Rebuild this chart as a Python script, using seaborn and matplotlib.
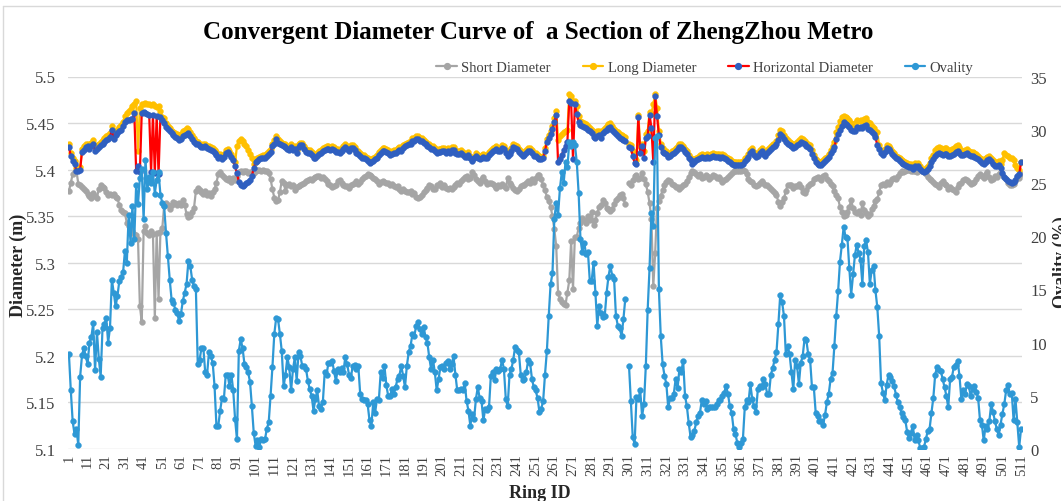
import matplotlib
matplotlib.use("Agg")
import matplotlib.pyplot as plt
from matplotlib.lines import Line2D
import numpy as np
import pandas as pd
import seaborn as sns

nan = float("nan")

rings = list(range(1, 512))

# short diameter (m), one value per ring, rows of 10 rings
short_diameter = [
    5.377, 5.386, 5.395, 5.397, 5.399, 5.385, 5.383, 5.381, 5.379, 5.377,  # 1
    5.374, 5.372, 5.370, 5.375, 5.372, 5.370, 5.379, 5.383, 5.381, 5.380,  # 11
    5.376, 5.373, 5.374, 5.373, 5.374, 5.371, 5.369, 5.362, 5.357, 5.354,  # 21
    5.353, 5.343, 5.340, 5.336, 5.334, 5.331, 5.330, 5.325, 5.254, 5.236,  # 31
    5.334, 5.340, 5.332, 5.330, 5.334, 5.331, 5.241, 5.332, 5.261, 5.333,  # 41
    5.337, 5.361, 5.364, 5.362, 5.358, 5.362, 5.365, 5.364, 5.362, 5.364,  # 51
    5.362, 5.367, 5.362, 5.352, 5.349, 5.350, 5.354, 5.359, 5.377, 5.380,  # 61
    5.378, 5.376, 5.374, 5.377, 5.373, 5.375, 5.372, 5.376, 5.379, 5.386,  # 71
    5.395, 5.397, 5.394, 5.392, 5.390, 5.389, 5.391, 5.387, 5.391, 5.389,  # 81
    5.393, 5.397, 5.399, 5.397, 5.398, 5.398, 5.396, 5.397, 5.397, 5.396,  # 91
    5.399, 5.400, 5.400, 5.399, 5.400, 5.399, 5.398, 5.396, 5.390, 5.379,  # 101
    5.370, 5.366, 5.367, 5.376, 5.388, 5.386, 5.377, 5.383, 5.385, 5.382,  # 111
    5.384, 5.378, 5.381, 5.382, 5.383, 5.385, 5.386, 5.388, 5.389, 5.390,  # 121
    5.389, 5.391, 5.392, 5.393, 5.393, 5.391, 5.392, 5.390, 5.388, 5.385,  # 131
    5.383, 5.381, 5.382, 5.384, 5.388, 5.389, 5.386, 5.384, 5.382, 5.382,  # 141
    5.380, 5.384, 5.385, 5.386, 5.388, 5.385, 5.387, 5.390, 5.392, 5.393,  # 151
    5.395, 5.394, 5.393, 5.391, 5.390, 5.388, 5.385, 5.387, 5.388, 5.387,  # 161
    5.386, 5.386, 5.384, 5.385, 5.382, 5.381, 5.382, 5.379, 5.377, 5.379,  # 171
    5.377, 5.376, 5.376, 5.377, 5.374, 5.375, 5.371, 5.369, 5.371, 5.373,  # 181
    5.376, 5.378, 5.380, 5.383, 5.382, 5.379, 5.379, 5.383, 5.383, 5.386,  # 191
    5.381, 5.383, 5.380, 5.379, 5.380, 5.379, 5.381, 5.383, 5.386, 5.385,  # 201
    5.388, 5.390, 5.392, 5.393, 5.390, 5.391, 5.397, 5.394, 5.390, 5.388,  # 211
    5.386, 5.390, 5.392, 5.388, 5.385, 5.386, 5.386, 5.385, 5.382, 5.380,  # 221
    5.384, 5.382, 5.385, 5.382, 5.380, 5.391, 5.386, 5.383, 5.380, 5.378,  # 231
    5.377, 5.379, 5.382, 5.384, 5.383, 5.386, 5.388, 5.386, 5.390, 5.387,  # 241
    5.391, 5.394, 5.394, 5.390, 5.383, 5.378, 5.371, 5.366, 5.360, 5.350,  # 251
    5.336, 5.318, 5.268, 5.261, 5.258, 5.256, 5.255, 5.268, 5.281, 5.323,  # 261
    5.272, 5.328, 5.328, 5.337, 5.343, 5.348, 5.346, 5.343, 5.350, 5.346,  # 271
    5.354, 5.341, 5.346, 5.353, 5.360, 5.362, 5.367, 5.364, 5.359, 5.358,  # 281
    5.356, 5.358, 5.363, 5.367, 5.369, 5.373, 5.374, 5.369, 5.363, nan,    # 291
    5.386, 5.383, 5.389, 5.393, 5.394, 5.390, 5.391, 5.396, 5.390, 5.385,  # 301
    5.376, 5.364, 5.347, 5.275, 5.310, 5.359, 5.366, 5.372, 5.378, 5.384,  # 311
    5.387, 5.389, 5.388, 5.385, 5.383, 5.381, 5.381, 5.379, 5.381, 5.383,  # 321
    5.385, 5.388, 5.392, 5.396, 5.399, 5.397, 5.395, 5.393, 5.395, 5.391,  # 331
    5.392, 5.394, 5.393, 5.390, 5.392, 5.394, 5.393, 5.391, 5.392, 5.390,  # 341
    5.387, 5.389, 5.390, 5.392, 5.394, 5.396, 5.398, 5.398, 5.399, 5.399,  # 351
    5.399, 5.400, 5.399, 5.395, 5.390, 5.388, 5.387, 5.384, 5.382, 5.384,  # 361
    5.386, 5.388, 5.386, 5.384, 5.383, 5.381, 5.379, 5.377, 5.375, 5.373,  # 371
    5.365, 5.361, 5.365, 5.369, 5.377, 5.384, 5.383, 5.383, 5.380, 5.382,  # 381
    5.382, 5.385, 5.381, 5.376, 5.375, 5.378, 5.382, 5.385, 5.386, 5.390,  # 391
    5.391, 5.392, 5.391, 5.389, 5.393, 5.394, 5.390, 5.388, 5.385, 5.382,  # 401
    5.377, 5.373, 5.369, 5.360, 5.354, 5.350, 5.351, 5.355, 5.360, 5.367,  # 411
    5.359, 5.354, 5.353, 5.356, 5.351, 5.364, 5.357, 5.353, 5.350, 5.352,  # 421
    5.358, 5.361, 5.366, 5.368, 5.376, 5.383, 5.385, 5.384, 5.387, 5.385,  # 431
    5.387, 5.390, 5.391, 5.390, 5.393, 5.396, 5.398, 5.397, 5.398, 5.400,  # 441
    5.400, 5.398, 5.398, 5.399, 5.397, 5.399, 5.400, 5.399, 5.397, 5.395,  # 451
    5.392, 5.390, 5.389, 5.387, 5.385, 5.383, 5.381, 5.386, 5.388, 5.385,  # 461
    5.383, 5.379, 5.381, 5.379, 5.378, 5.376, 5.381, 5.385, 5.386, 5.389,  # 471
    5.390, 5.389, 5.387, 5.385, 5.386, 5.387, 5.390, 5.393, 5.395, 5.393,  # 481
    5.391, 5.395, 5.397, 5.392, 5.389, 5.390, 5.393, 5.392, 5.395, 5.397,  # 491
    5.395, 5.392, 5.390, 5.386, 5.384, 5.383, 5.385, 5.388, 5.392, 5.391, 5.395,  # 501
]

long_diameter = [
    5.427, 5.418, 5.412, 5.409, 5.402, 5.401, 5.403, 5.422, 5.425, 5.428,  # 1
    5.428, 5.426, 5.429, 5.432, 5.424, 5.426, 5.428, 5.430, 5.432, 5.434,  # 11
    5.436, 5.437, 5.439, 5.447, 5.437, 5.441, 5.443, 5.446, 5.448, 5.451,  # 21
    5.458, 5.461, 5.463, 5.465, 5.468, 5.470, 5.474, 5.420, 5.466, 5.470,  # 31
    5.471, 5.472, 5.470, 5.471, 5.469, 5.470, 5.468, 5.467, 5.468, 5.463,  # 41
    5.457, 5.455, 5.450, 5.447, 5.445, 5.442, 5.440, 5.439, 5.438, 5.437,  # 51
    5.438, 5.441, 5.443, 5.445, 5.444, 5.440, 5.437, 5.434, 5.431, 5.430,  # 61
    5.428, 5.426, 5.427, 5.428, 5.425, 5.425, 5.424, 5.423, 5.421, 5.419,  # 71
    5.416, 5.417, 5.414, 5.417, 5.421, 5.422, 5.420, 5.417, 5.413, 5.408,  # 81
    5.425, 5.431, 5.433, 5.431, 5.428, 5.425, 5.421, 5.417, 5.412, 5.406,  # 91
    5.411, 5.412, 5.414, 5.415, 5.416, 5.416, 5.418, 5.420, 5.422, 5.428,  # 101
    5.432, 5.436, 5.433, 5.431, 5.429, 5.428, 5.427, 5.425, 5.424, 5.427,  # 111
    5.424, 5.425, 5.421, 5.427, 5.429, 5.429, 5.425, 5.422, 5.421, 5.421,  # 121
    5.419, 5.415, 5.416, 5.418, 5.420, 5.421, 5.423, 5.424, 5.425, 5.425,  # 131
    5.424, 5.425, 5.424, 5.422, 5.422, 5.421, 5.423, 5.425, 5.427, 5.425,  # 141
    5.423, 5.426, 5.426, 5.424, 5.421, 5.420, 5.418, 5.416, 5.416, 5.414,  # 151
    5.412, 5.410, 5.411, 5.412, 5.414, 5.416, 5.419, 5.421, 5.423, 5.423,  # 161
    5.422, 5.421, 5.419, 5.420, 5.421, 5.421, 5.423, 5.424, 5.423, 5.426,  # 171
    5.428, 5.429, 5.430, 5.431, 5.434, 5.434, 5.436, 5.436, 5.434, 5.434,  # 181
    5.432, 5.430, 5.428, 5.427, 5.425, 5.425, 5.423, 5.421, 5.422, 5.422,  # 191
    5.423, 5.423, 5.421, 5.423, 5.421, 5.424, 5.424, 5.421, 5.420, 5.420,  # 201
    5.421, 5.419, 5.417, 5.417, 5.419, 5.415, 5.410, 5.414, 5.418, 5.416,  # 211
    5.414, 5.416, 5.417, 5.416, 5.416, 5.419, 5.421, 5.423, 5.424, 5.425,  # 221
    5.423, 5.423, 5.426, 5.425, 5.421, 5.418, 5.420, 5.423, 5.427, 5.426,  # 231
    5.425, 5.422, 5.420, 5.418, 5.419, 5.421, 5.423, 5.423, 5.421, 5.418,  # 241
    5.418, 5.416, 5.414, 5.414, 5.415, 5.423, 5.433, 5.437, 5.441, 5.447,  # 251
    5.455, 5.463, 5.432, 5.436, 5.438, 5.440, 5.441, 5.443, 5.481, 5.479,  # 261
    5.474, 5.474, 5.468, 5.458, 5.452, 5.451, 5.450, 5.449, 5.447, 5.445,  # 271
    5.443, 5.440, 5.439, 5.441, 5.442, 5.439, 5.443, 5.445, 5.447, 5.449,  # 281
    5.450, 5.447, 5.444, 5.442, 5.440, 5.438, 5.437, 5.436, 5.435, nan,    # 291
    5.427, 5.426, 5.420, 5.412, 5.410, 5.459, 5.425, 5.428, 5.420, 5.438,  # 301
    5.441, 5.462, 5.460, 5.470, 5.481, 5.466, 5.442, 5.428, 5.423, 5.421,  # 311
    5.420, 5.417, 5.418, 5.420, 5.421, 5.423, 5.425, 5.427, 5.427, 5.425,  # 321
    5.422, 5.420, 5.416, 5.413, 5.409, 5.411, 5.413, 5.414, 5.416, 5.417,  # 331
    5.416, 5.416, 5.417, 5.416, 5.417, 5.418, 5.417, 5.417, 5.417, 5.416,  # 341
    5.417, 5.416, 5.414, 5.412, 5.411, 5.409, 5.408, 5.408, 5.408, 5.408,  # 351
    5.408, 5.409, 5.412, 5.414, 5.417, 5.421, 5.423, 5.419, 5.417, 5.418,  # 361
    5.421, 5.423, 5.420, 5.418, 5.421, 5.423, 5.425, 5.427, 5.428, 5.431,  # 371
    5.437, 5.443, 5.441, 5.437, 5.434, 5.432, 5.430, 5.429, 5.427, 5.428,  # 381
    5.430, 5.432, 5.434, 5.433, 5.431, 5.429, 5.428, 5.426, 5.421, 5.416,  # 391
    5.411, 5.409, 5.408, 5.408, 5.410, 5.412, 5.414, 5.417, 5.421, 5.425,  # 401
    5.430, 5.440, 5.446, 5.452, 5.456, 5.458, 5.457, 5.455, 5.453, 5.450,  # 411
    5.448, 5.450, 5.453, 5.452, 5.453, 5.452, 5.454, 5.455, 5.451, 5.450,  # 421
    5.447, 5.445, 5.442, 5.440, 5.426, 5.421, 5.419, 5.422, 5.426, 5.425,  # 431
    5.423, 5.420, 5.418, 5.415, 5.414, 5.412, 5.410, 5.409, 5.408, 5.407,  # 441
    5.406, 5.406, 5.404, 5.407, 5.406, 5.407, 5.404, 5.401, 5.400, 5.402,  # 451
    5.404, 5.407, 5.412, 5.416, 5.421, 5.423, 5.424, 5.423, 5.422, 5.423,  # 461
    5.423, 5.421, 5.421, 5.422, 5.423, 5.425, 5.426, 5.424, 5.421, 5.420,  # 471
    5.421, 5.422, 5.420, 5.419, 5.419, 5.418, 5.417, 5.415, 5.413, 5.411,  # 481
    5.410, 5.412, 5.414, 5.415, 5.413, 5.410, 5.408, 5.408, 5.409, 5.406,  # 491
    5.410, 5.418, 5.416, 5.415, 5.413, 5.412, 5.410, 5.405, 5.402, 5.400, 5.408,  # 501
]

horizontal_diameter = [
    5.424, 5.415, 5.409, 5.406, 5.399, 5.398, 5.400, 5.419, 5.421, 5.424,  # 1
    5.425, 5.422, 5.425, 5.428, 5.420, 5.422, 5.424, 5.426, 5.428, 5.430,  # 11
    5.432, 5.433, 5.435, 5.443, 5.433, 5.437, 5.439, 5.442, 5.443, 5.447,  # 21
    5.451, 5.453, 5.453, 5.454, 5.454, 5.461, 5.399, 5.404, 5.397, 5.461,  # 31
    5.462, 5.461, 5.460, 5.459, 5.397, 5.459, 5.396, 5.458, 5.395, 5.457,  # 41
    5.453, 5.450, 5.446, 5.444, 5.441, 5.439, 5.437, 5.435, 5.434, 5.432,  # 51
    5.433, 5.436, 5.437, 5.438, 5.439, 5.436, 5.433, 5.430, 5.428, 5.427,  # 61
    5.425, 5.424, 5.424, 5.425, 5.423, 5.422, 5.421, 5.420, 5.418, 5.416,  # 71
    5.413, 5.414, 5.411, 5.414, 5.418, 5.419, 5.417, 5.414, 5.410, 5.404,  # 81
    5.396, 5.387, 5.384, 5.382, 5.384, 5.386, 5.387, 5.389, 5.393, 5.402,  # 91
    5.408, 5.409, 5.411, 5.412, 5.413, 5.413, 5.415, 5.417, 5.419, 5.425,  # 101
    5.428, 5.433, 5.429, 5.428, 5.426, 5.425, 5.424, 5.422, 5.421, 5.424,  # 111
    5.421, 5.422, 5.418, 5.424, 5.426, 5.426, 5.422, 5.419, 5.418, 5.418,  # 121
    5.416, 5.412, 5.413, 5.415, 5.417, 5.418, 5.420, 5.421, 5.422, 5.422,  # 131
    5.421, 5.422, 5.421, 5.419, 5.419, 5.418, 5.420, 5.422, 5.424, 5.422,  # 141
    5.420, 5.423, 5.423, 5.421, 5.418, 5.417, 5.415, 5.413, 5.413, 5.411,  # 151
    5.409, 5.407, 5.408, 5.409, 5.411, 5.413, 5.416, 5.418, 5.420, 5.420,  # 161
    5.419, 5.418, 5.416, 5.417, 5.418, 5.418, 5.420, 5.421, 5.420, 5.423,  # 171
    5.425, 5.426, 5.427, 5.428, 5.431, 5.431, 5.433, 5.433, 5.431, 5.431,  # 181
    5.429, 5.427, 5.425, 5.424, 5.422, 5.422, 5.420, 5.418, 5.419, 5.419,  # 191
    5.420, 5.420, 5.418, 5.420, 5.418, 5.421, 5.421, 5.418, 5.417, 5.417,  # 201
    5.418, 5.416, 5.414, 5.414, 5.416, 5.412, 5.409, 5.413, 5.415, 5.413,  # 211
    5.411, 5.413, 5.414, 5.413, 5.413, 5.416, 5.418, 5.420, 5.421, 5.422,  # 221
    5.420, 5.420, 5.423, 5.422, 5.418, 5.415, 5.417, 5.420, 5.424, 5.423,  # 231
    5.422, 5.419, 5.417, 5.415, 5.416, 5.418, 5.420, 5.420, 5.418, 5.415,  # 241
    5.415, 5.413, 5.411, 5.411, 5.412, 5.420, 5.430, 5.434, 5.438, 5.444,  # 251
    5.451, 5.459, 5.408, 5.411, 5.416, 5.421, 5.425, 5.430, 5.474, 5.472,  # 261
    5.411, 5.470, 5.460, 5.451, 5.448, 5.447, 5.446, 5.445, 5.443, 5.441,  # 271
    5.439, 5.435, 5.434, 5.436, 5.437, 5.434, 5.439, 5.441, 5.443, 5.445,  # 281
    5.446, 5.443, 5.440, 5.438, 5.436, 5.434, 5.433, 5.432, 5.431, nan,    # 291
    5.424, 5.423, 5.415, 5.407, 5.406, 5.456, 5.418, 5.425, 5.413, 5.434,  # 301
    5.436, 5.459, 5.445, 5.408, 5.479, 5.458, 5.437, 5.424, 5.419, 5.418,  # 311
    5.417, 5.414, 5.415, 5.417, 5.418, 5.420, 5.422, 5.424, 5.424, 5.422,  # 321
    5.419, 5.417, 5.413, 5.410, 5.406, 5.408, 5.410, 5.411, 5.413, 5.414,  # 331
    5.413, 5.413, 5.414, 5.413, 5.414, 5.415, 5.414, 5.414, 5.414, 5.413,  # 341
    5.414, 5.413, 5.411, 5.409, 5.408, 5.406, 5.405, 5.405, 5.405, 5.405,  # 351
    5.405, 5.406, 5.409, 5.411, 5.414, 5.418, 5.420, 5.416, 5.414, 5.415,  # 361
    5.418, 5.420, 5.417, 5.415, 5.418, 5.420, 5.422, 5.424, 5.425, 5.427,  # 371
    5.432, 5.438, 5.436, 5.433, 5.430, 5.428, 5.426, 5.425, 5.423, 5.424,  # 381
    5.426, 5.428, 5.430, 5.429, 5.427, 5.425, 5.424, 5.422, 5.417, 5.413,  # 391
    5.408, 5.406, 5.405, 5.405, 5.407, 5.409, 5.411, 5.414, 5.418, 5.421,  # 401
    5.424, 5.433, 5.438, 5.443, 5.447, 5.451, 5.449, 5.448, 5.446, 5.443,  # 411
    5.441, 5.442, 5.446, 5.445, 5.446, 5.445, 5.447, 5.448, 5.444, 5.443,  # 421
    5.440, 5.438, 5.435, 5.426, 5.422, 5.418, 5.416, 5.419, 5.423, 5.422,  # 431
    5.420, 5.417, 5.415, 5.412, 5.411, 5.409, 5.407, 5.406, 5.405, 5.404,  # 441
    5.403, 5.403, 5.401, 5.404, 5.403, 5.404, 5.401, 5.398, 5.397, 5.399,  # 451
    5.401, 5.404, 5.408, 5.411, 5.415, 5.417, 5.418, 5.417, 5.416, 5.417,  # 461
    5.417, 5.415, 5.415, 5.416, 5.417, 5.419, 5.420, 5.418, 5.416, 5.416,  # 471
    5.417, 5.418, 5.416, 5.415, 5.415, 5.414, 5.413, 5.411, 5.409, 5.407,  # 481
    5.406, 5.408, 5.410, 5.411, 5.409, 5.406, 5.404, 5.404, 5.405, 5.402,  # 491
    5.396, 5.392, 5.390, 5.388, 5.387, 5.386, 5.387, 5.389, 5.393, 5.395, 5.408,  # 501
]

# ovality (%), right axis
ovality = [
    8.9, 5.5, 2.6, 1.4, 1.9, 0.4, 6.8, 8.8, 9.5, 8.7,  # 1
    8.0, 10.0, 10.5, 11.8, 7.4, 11.0, 8.5, 6.8, 11.4, 11.7,  # 11
    12.3, 10.0, 11.4, 15.9, 14.7, 13.4, 14.4, 15.8, 16.2, 16.6,  # 21
    18.6, 17.5, 22.0, 19.4, 22.8, 19.7, 24.8, 23.0, 25.5, 26.3,  # 31
    21.6, 27.2, 24.4, 25.6, 25.0, 26.0, 24.0, 25.3, 26.0, 23.9,  # 41
    23.1, 22.8, 20.3, 18.1, 15.9, 14.0, 13.7, 13.1, 12.8, 12.0,  # 51
    12.7, 13.9, 14.7, 15.5, 17.7, 17.2, 15.9, 15.3, 15.0, 8.0,  # 61
    8.4, 9.5, 9.5, 7.2, 7.0, 9.1, 8.7, 8.1, 5.9, 2.2,  # 71
    2.2, 3.6, 4.8, 4.7, 7.0, 7.0, 5.9, 7.0, 5.5, 2.8,  # 81
    0.9, 9.2, 10.3, 9.5, 8.0, 7.7, 7.2, 6.3, 4.0, 1.5,  # 91
    0.3, 0.8, 0.2, 0.9, 0.8, 0.9, 1.9, 2.5, 5.0, 7.7,  # 101
    10.8, 12.3, 12.2, 10.8, 9.2, 5.9, 7.0, 8.6, 7.7, 5.5,  # 111
    7.5, 8.6, 6.4, 9.1, 8.7, 7.8, 7.8, 7.5, 6.4, 5.6,  # 121
    5.0, 3.6, 4.7, 5.5, 4.0, 3.8, 4.4, 7.2, 7.0, 8.1,  # 131
    8.1, 8.3, 7.3, 6.4, 7.5, 7.2, 7.6, 7.2, 8.6, 8.0,  # 141
    7.0, 6.7, 7.8, 7.9, 7.5, 7.8, 5.2, 4.7, 4.6, 4.6,  # 151
    4.2, 2.7, 2.2, 4.4, 3.4, 4.7, 4.6, 7.2, 6.7, 7.8,  # 161
    6.0, 5.0, 5.0, 5.6, 5.2, 5.8, 6.6, 6.9, 7.8, 6.9,  # 171
    5.8, 7.8, 9.1, 9.7, 10.8, 10.6, 11.6, 11.9, 11.3, 10.8,  # 181
    11.5, 10.5, 10.0, 8.6, 7.5, 8.4, 7.2, 5.5, 6.6, 7.7,  # 191
    7.8, 7.5, 8.1, 8.3, 7.5, 8.0, 8.7, 7.0, 5.5, 5.5,  # 201
    5.6, 5.5, 6.2, 4.5, 3.6, 2.2, 3.3, 2.8, 4.7, 5.8,  # 211
    4.8, 4.5, 2.7, 3.8, 3.7, 3.9, 6.9, 7.2, 6.5, 7.5,  # 221
    7.3, 7.5, 8.4, 7.5, 4.7, 4.0, 7.0, 7.5, 8.4, 9.6,  # 231
    9.3, 9.1, 7.0, 6.5, 6.6, 7.2, 8.4, 8.1, 6.6, 5.8,  # 241
    5.5, 4.8, 3.5, 3.8, 4.5, 7.0, 9.2, 12.5, 15.5, 16.5,  # 251
    21.6, 23.1, 22.0, 24.5, 26.0, 25.0, 27.0, 26.5, 28.8, 28.5,  # 261
    28.8, 28.6, 27.0, 24.1, 19.7, 18.5, 19.4, 18.3, 18.5, 15.8,  # 271
    15.8, 17.5, 14.7, 11.6, 13.4, 12.8, 12.4, 12.5, 14.7, 16.2,  # 281
    17.2, 16.3, 16.0, 12.5, 11.6, 11.4, 10.6, 12.2, 14.1, nan,  # 291
    7.8, 4.5, 1.1, 0.5, 4.9, 4.7, 5.5, 3.1, 4.2, 7.8,  # 301
    13.1, 17.0, 22.2, 21.0, 29.2, 29.4, 15.0, 10.6, 8.0, 6.9,  # 311
    6.1, 3.9, 4.8, 4.8, 5.2, 6.6, 5.7, 7.5, 7.2, 8.3,  # 321
    5.0, 4.0, 2.4, 1.1, 1.3, 1.7, 2.5, 3.1, 3.4, 4.6,  # 331
    4.2, 4.5, 3.8, 3.9, 3.9, 3.9, 3.9, 4.2, 4.6, 4.6,  # 341
    5.0, 5.3, 5.9, 5.2, 4.0, 3.4, 1.9, 1.4, 0.6, 0.2,  # 351
    0.6, 0.9, 3.9, 4.6, 4.4, 6.1, 4.7, 4.0, 3.5, 5.6,  # 361
    5.9, 5.8, 6.6, 6.1, 5.2, 5.2, 7.0, 7.6, 8.4, 9.1,  # 371
    11.7, 14.5, 13.8, 12.5, 8.9, 9.7, 8.9, 7.2, 5.6, 8.4,  # 381
    7.8, 6.1, 8.1, 8.7, 10.3, 10.2, 8.9, 8.4, 5.8, 5.8,  # 391
    3.4, 3.1, 2.6, 2.6, 2.3, 3.2, 4.4, 5.2, 6.6, 7.1,  # 401
    9.7, 12.5, 14.8, 17.6, 19.2, 20.9, 19.9, 19.8, 17.0, 14.5,  # 411
    16.4, 18.2, 19.2, 18.4, 17.8, 15.5, 19.1, 19.6, 18.5, 15.5,  # 421
    16.8, 17.2, 14.9, 13.3, 10.6, 6.2, 5.3, 4.6, 6.0, 7.0,  # 431
    6.8, 6.4, 5.9, 5.1, 4.4, 3.9, 3.4, 3.0, 2.7, 1.6,  # 441
    1.0, 1.5, 2.2, 0.8, 1.3, 0.8, 0.1, 0.1, 0.2, 0.9,  # 451
    1.7, 1.9, 3.4, 4.8, 7.0, 7.7, 7.4, 7.3, 6.6, 5.8,  # 461
    5.0, 3.9, 6.6, 6.8, 7.7, 7.9, 8.3, 6.9, 4.7, 5.5,  # 471
    5.2, 6.1, 5.9, 5.0, 5.6, 5.9, 5.4, 4.8, 2.7, 2.3,  # 481
    0.8, 2.2, 1.9, 2.6, 4.2, 3.5, 2.6, 1.9, 1.3, 2.3,  # 491
    3.3, 4.2, 5.5, 6.0, 5.2, 5.3, 2.7, 4.7, 2.5, 0.2, 1.9,  # 501
]

x_tick_rings = list(range(1, 512, 10))
y_left_ticks = [5.1, 5.15, 5.2, 5.25, 5.3, 5.35, 5.4, 5.45, 5.5]
y_left_labels = ["5.1", "5.15", "5.2", "5.25", "5.3", "5.35", "5.4", "5.45", "5.5"]
y_right_ticks = [0, 5, 10, 15, 20, 25, 30, 35]

GRAY = "#A5A5A5"
GOLD = "#FFC000"
RED = "#FF0000"
DARK_BLUE = "#2F5FC0"
LIGHT_BLUE = "#2E98D5"

df = pd.DataFrame({
    "Ring": rings,
    "Short": short_diameter,
    "Long": long_diameter,
    "Horizontal": horizontal_diameter,
    "Ovality": ovality,
})
# missing ring splits every line into separate pieces
df["piece"] = df["Ovality"].isna().cumsum()

sns.set_theme(style="white")
plt.rcParams["font.family"] = ["Liberation Serif", "DejaVu Serif"]

W, H = 1061, 502
fig = plt.figure(figsize=(W / 100, H / 100), dpi=100)
ax = fig.add_axes([68 / W, 1 - 450 / H, (1022 - 68) / W, (450 - 77.5) / H])
ax2 = ax.twinx()

mk = dict(marker="o", markersize=4.2, linewidth=1.6, estimator=None,
          units="piece", legend=False)

sns.lineplot(data=df, x="Ring", y="Short", ax=ax, color=GRAY,
             markerfacecolor=GRAY, markeredgecolor=GRAY, markeredgewidth=0.3, **mk)
sns.lineplot(data=df, x="Ring", y="Long", ax=ax, color=GOLD,
             markerfacecolor=GOLD, markeredgecolor=GOLD, markeredgewidth=0.3, **mk)
sns.lineplot(data=df, x="Ring", y="Horizontal", ax=ax, color=RED,
             markerfacecolor=DARK_BLUE, markeredgecolor=DARK_BLUE, markeredgewidth=0.3, **mk)
sns.lineplot(data=df, x="Ring", y="Ovality", ax=ax2, color=LIGHT_BLUE,
             markerfacecolor=LIGHT_BLUE, markeredgecolor=LIGHT_BLUE, markeredgewidth=0.3, **mk)

ax.set_xlim(0.5, 511.5)
ax.set_ylim(5.1, 5.5)
ax2.set_ylim(0, 35)

ax.set_yticks(y_left_ticks)
ax.set_yticklabels(y_left_labels)
ax2.set_yticks(y_right_ticks)
ax.set_xticks(x_tick_rings)
ax.set_xticklabels([str(r) for r in x_tick_rings], rotation=90)

ax.yaxis.grid(True, color="#D9D9D9", linewidth=1.0)
ax.xaxis.grid(False)
ax.set_axisbelow(True)
for a in (ax, ax2):
    for s in a.spines.values():
        s.set_visible(False)
    a.set_xlabel("")
    a.set_ylabel("")
ax.tick_params(axis="y", length=0, pad=9, labelsize=12, labelcolor="#404040")
ax2.tick_params(axis="y", length=0, pad=6, labelsize=12, labelcolor="#404040")
ax.tick_params(axis="x", length=0, pad=3, labelsize=10.5, labelcolor="#404040")

fig.text(538 / W, 1 - 33 / H, "Convergent Diameter Curve of  a Section of ZhengZhou Metro",
         ha="center", va="center", fontsize=18, fontweight="bold", color="black")
fig.text(18 / W, 1 - 265 / H, "Diameter (m)", rotation=90, ha="center", va="center",
         fontsize=13, fontweight="bold")
# the right-hand title sits on the edge of the picture, as in the source chart
fig.text(1053 / W, 1 - 262 / H, "Ovality (%)", rotation=90, ha="left", va="center",
         fontsize=13, fontweight="bold")
fig.text(540 / W, 1 - 494 / H, "Ring ID", ha="center", va="center",
         fontsize=13, fontweight="bold")

handles = [
    Line2D([], [], color=GRAY, marker="o", markersize=4.2, linewidth=1.6),
    Line2D([], [], color=GOLD, marker="o", markersize=4.2, linewidth=1.6),
    Line2D([], [], color=RED, marker="o", markersize=4.2, linewidth=1.6,
           markerfacecolor=DARK_BLUE, markeredgecolor=DARK_BLUE),
    Line2D([], [], color=LIGHT_BLUE, marker="o", markersize=4.2, linewidth=1.6),
]
fig.legend(handles, ["Short Diameter", "Long Diameter", "Horizontal Diameter", "Ovality"],
           loc="center", bbox_to_anchor=(705 / W, 1 - 68 / H), ncol=4, frameon=False,
           fontsize=10.5, handlelength=1.4, handletextpad=0.3, columnspacing=2.2,
           labelcolor="#404040")

# chart frame
fig.add_artist(Line2D([3 / W, 3 / W], [0, 1 - 7 / H], color="#D9D9D9", linewidth=1.0))
fig.add_artist(Line2D([3 / W, 1], [1 - 7 / H, 1 - 7 / H], color="#D9D9D9", linewidth=1.0))

fig.savefig("out.png", dpi=100)
